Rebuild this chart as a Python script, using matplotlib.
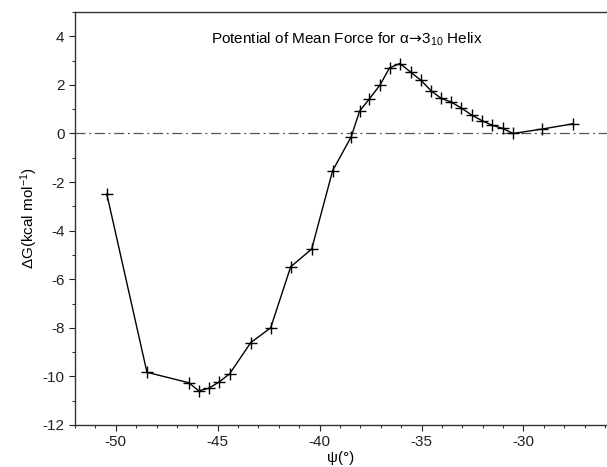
import matplotlib
matplotlib.use("Agg")
import matplotlib.pyplot as plt
from matplotlib.ticker import MultipleLocator

plt.rcParams['font.family'] = ['Liberation Sans', 'DejaVu Sans']
plt.rcParams['axes.unicode_minus'] = False

psi = [-50.44, -48.47, -46.42, -45.93, -45.44, -44.95, -44.42, -43.38, -42.40,
       -41.42, -40.39, -39.36, -38.45, -38.04, -37.57, -37.04, -36.57, -36.06,
       -35.54, -35.03, -34.52, -34.03, -33.56, -33.05, -32.52, -32.02, -31.54,
       -31.02, -30.51, -29.10, -27.55]
dG = [-2.49, -9.83, -10.26, -10.59, -10.49, -10.24, -9.90, -8.61, -8.00,
      -5.49, -4.76, -1.53, -0.14, 0.92, 1.41, 1.99, 2.70, 2.88,
      2.53, 2.19, 1.75, 1.44, 1.30, 1.05, 0.75, 0.52, 0.34,
      0.21, 0.00, 0.18, 0.40]

xticks = [-50, -45, -40, -35, -30]
yticks = [4, 2, 0, -2, -4, -6, -8, -10, -12]

fig = plt.figure(figsize=(6.07, 4.67), dpi=100)
ax = fig.add_axes([75/607, 42/467, 1 - 75/607, (425-12)/467])

ax.axhline(0, color='#555555', lw=0.9, ls=(0, (8, 3, 1.5, 3)))
ax.plot(psi, dG, color='black', lw=1.0, marker='+', ms=9, mew=1.0)

ax.set_xlim(-52.0, -25.9)
ax.set_ylim(-12, 5)
ax.set_xticks(xticks)
ax.set_yticks(yticks)
ax.set_xticklabels([str(v) for v in xticks])
ax.set_yticklabels([str(v) for v in yticks])
ax.xaxis.set_minor_locator(MultipleLocator(1))
ax.yaxis.set_minor_locator(MultipleLocator(1))
ax.tick_params(which='major', direction='out', length=4, width=0.8, labelsize=11, colors='#222222')
ax.tick_params(which='minor', direction='out', length=2, width=0.6)
ax.spines['right'].set_visible(False)
for s in ['left', 'bottom', 'top']:
    ax.spines[s].set_linewidth(1.0)
    ax.spines[s].set_color('#333333')

ax.text(0.51, 0.935, r'Potential of Mean Force for α$\!\rightarrow\!\mathregular{3_{10}}$ Helix',
        transform=ax.transAxes, ha='center', va='center', fontsize=11)
ax.set_xlabel('ψ(°)', fontsize=11, labelpad=1)
ax.set_ylabel(r'ΔG(kcal mol$\mathregular{^{-1}}$)', fontsize=11, labelpad=2)

fig.savefig('out.png', dpi=100)
